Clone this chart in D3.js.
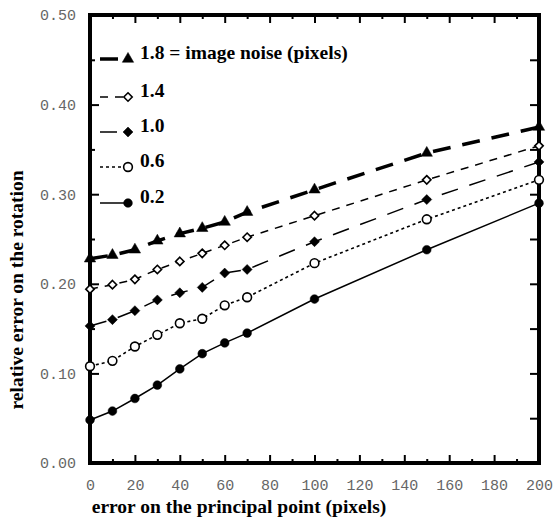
<!DOCTYPE html>
<html>
<head>
<meta charset="utf-8">
<script src="https://cdn.jsdelivr.net/npm/d3@7"></script>
<style>
  html, body { margin: 0; padding: 0; background: #fff; }
  svg { display: block; }
</style>
</head>
<body>
<svg id="chart" width="556" height="523"></svg>
<script>
// ---------------- data ----------------
const xValues = [0, 10, 20, 30, 40, 50, 60, 70, 100, 150, 200];
const noiseLevels = ["1.8", "1.4", "1.0", "0.6", "0.2"];
const legendLabels = ["1.8 = image noise (pixels)", "1.4", "1.0", "0.6", "0.2"];
const series18 = [0.228, 0.232, 0.238, 0.248, 0.256, 0.262, 0.269, 0.280, 0.305, 0.346, 0.375];
const series14 = [0.194, 0.199, 0.205, 0.216, 0.225, 0.234, 0.243, 0.252, 0.276, 0.316, 0.354];
const series10 = [0.153, 0.160, 0.170, 0.182, 0.190, 0.196, 0.212, 0.216, 0.247, 0.294, 0.336];
const series06 = [0.108, 0.114, 0.130, 0.143, 0.156, 0.161, 0.176, 0.185, 0.223, 0.272, 0.316];
const series02 = [0.048, 0.058, 0.072, 0.087, 0.105, 0.122, 0.134, 0.145, 0.183, 0.238, 0.290];
const xTickLabels = [0, 20, 40, 60, 80, 100, 120, 140, 160, 180, 200];
const yTickLabels = [0.00, 0.10, 0.20, 0.30, 0.40, 0.50];
const xTitle = "error on the principal point (pixels)";
const yTitle = "relative error on the rotation";

// ---------------- styles ----------------
const seriesValues = [series18, series14, series10, series06, series02];
const styles = [
  { dash: "18,12", width: 3.5, marker: "triangle", fill: "#000" },
  { dash: "8,7",   width: 1.5, marker: "diamond",  fill: "#fff" },
  { dash: "17,12", width: 1.5, marker: "diamond",  fill: "#000" },
  { dash: "3,3",   width: 1.6, marker: "circle",   fill: "#fff" },
  { dash: null,    width: 1.5, marker: "circle",   fill: "#000" }
];

const svg = d3.select("#chart");
const L = 90, R = 539, T = 15, B = 463;
const x = d3.scaleLinear().domain([0, 200]).range([L, R]);
const y = d3.scaleLinear().domain([0, 0.5]).range([B, T]);

const tickFont = "'Liberation Mono', 'Courier New', monospace";
const titleFont = "'Liberation Serif', 'Times New Roman', serif";

function styleAxis(g) {
  g.select(".domain").remove();
  g.selectAll(".tick line").attr("stroke", "#000").attr("stroke-width", 2);
  g.selectAll(".tick text").attr("fill", "#666").style("font-family", tickFont).style("font-size", "15px");
}

const minorX = d3.range(10, 200, 20);
const minorY = d3.range(0.05, 0.5, 0.1);

// bottom
svg.append("g").attr("transform", `translate(0,${B})`)
  .call(d3.axisBottom(x).tickValues(xTickLabels).tickFormat(d3.format("d")).tickSizeInner(-8).tickSizeOuter(0).tickPadding(16))
  .call(styleAxis);
svg.append("g").attr("transform", `translate(0,${B})`)
  .call(d3.axisBottom(x).tickValues(minorX).tickFormat("").tickSizeInner(-4).tickSizeOuter(0))
  .call(styleAxis);
// top
svg.append("g").attr("transform", `translate(0,${T})`)
  .call(d3.axisTop(x).tickValues(xTickLabels).tickFormat("").tickSizeInner(-8).tickSizeOuter(0))
  .call(styleAxis);
svg.append("g").attr("transform", `translate(0,${T})`)
  .call(d3.axisTop(x).tickValues(minorX).tickFormat("").tickSizeInner(-4).tickSizeOuter(0))
  .call(styleAxis);
// left
svg.append("g").attr("transform", `translate(${L},0)`)
  .call(d3.axisLeft(y).tickValues(yTickLabels).tickFormat(d3.format(".2f")).tickSizeInner(-9).tickSizeOuter(0).tickPadding(14))
  .call(styleAxis);
svg.append("g").attr("transform", `translate(${L},0)`)
  .call(d3.axisLeft(y).tickValues(minorY).tickFormat("").tickSizeInner(-5).tickSizeOuter(0))
  .call(styleAxis);
// right
svg.append("g").attr("transform", `translate(${R},0)`)
  .call(d3.axisRight(y).tickValues(yTickLabels).tickFormat("").tickSizeInner(-9).tickSizeOuter(0))
  .call(styleAxis);
svg.append("g").attr("transform", `translate(${R},0)`)
  .call(d3.axisRight(y).tickValues(minorY).tickFormat("").tickSizeInner(-9).tickSizeOuter(0))
  .call(styleAxis);

// frame
svg.append("rect").attr("x", L).attr("y", T).attr("width", R - L).attr("height", B - T)
  .attr("fill", "none").attr("stroke", "#000").attr("stroke-width", 4);

// symbols
function symbolPath(kind) {
  if (kind === "triangle") return d3.symbol().type(d3.symbolTriangle).size(56)();
  if (kind === "diamond") return "M0,-5L5,0L0,5L-5,0Z";
  return d3.symbol().type(d3.symbolCircle).size(60)();
}
function drawMarker(g, kind, fill, cx, cy) {
  const p = g.append("path").attr("d", symbolPath(kind))
    .attr("transform", `translate(${cx},${cy})`)
    .attr("fill", fill).attr("stroke", "#000");
  if (fill === "#fff") p.attr("stroke-width", 1.6).attr("d", kind === "diamond" ? "M0,-4.2L4.2,0L0,4.2L-4.2,0Z" : symbolPath(kind));
  else p.attr("stroke-width", 0.5);
}

const line = d3.line().x((d, i) => x(xValues[i])).y(d => y(d));
const linesG = svg.append("g");
const markersG = svg.append("g");
seriesValues.forEach((vals, si) => {
  const st = styles[si];
  linesG.append("path").datum(vals).attr("d", line)
    .attr("fill", "none").attr("stroke", "#000").attr("stroke-width", st.width)
    .attr("stroke-dasharray", st.dash);
  vals.forEach((v, i) => drawMarker(markersG, st.marker, st.fill, x(xValues[i]), y(v)));
});

// legend
const legendY = [59, 97, 132, 167, 203];
const legG = svg.append("g");
noiseLevels.forEach((lvl, i) => {
  const st = styles[i];
  const ly = legendY[i];
  legG.append("line").attr("x1", 100).attr("x2", 127).attr("y1", ly).attr("y2", ly)
    .attr("stroke", "#000").attr("stroke-width", st.width).attr("stroke-dasharray", st.dash);
  drawMarker(legG, st.marker, st.fill, 128, ly);
  legG.append("text").attr("x", 140).attr("y", ly)
    .style("font-family", titleFont).style("font-weight", "bold").style("font-size", "19.5px")
    .text(legendLabels[i]);
});

// titles
svg.append("text").attr("x", 239).attr("y", 513).attr("text-anchor", "middle")
  .style("font-family", titleFont).style("font-weight", "bold").style("font-size", "19.5px")
  .text(xTitle);
svg.append("text").attr("transform", "translate(23,290) rotate(-90)").attr("text-anchor", "middle")
  .style("font-family", titleFont).style("font-weight", "bold").style("font-size", "19.5px")
  .text(yTitle);
</script>
</body>
</html>
